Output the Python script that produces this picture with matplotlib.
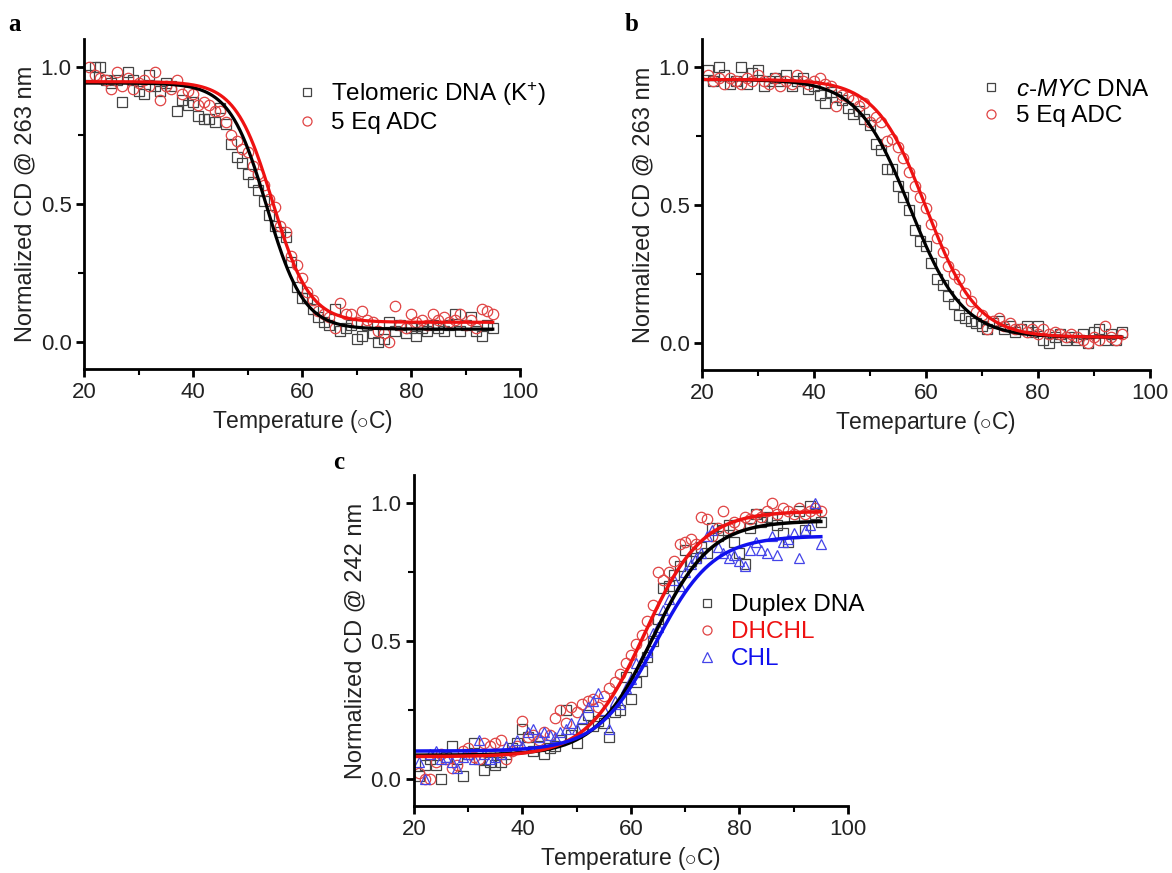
import numpy as np
import matplotlib.pyplot as plt
from matplotlib.ticker import MultipleLocator
from matplotlib.lines import Line2D

plt.rcParams['font.family'] = ['Liberation Sans', 'DejaVu Sans']
plt.rcParams['mathtext.fontset'] = 'custom'
plt.rcParams['mathtext.rm'] = 'Liberation Sans'
plt.rcParams['mathtext.it'] = 'Liberation Sans:italic'
plt.rcParams['mathtext.bf'] = 'Liberation Sans:bold'

temp = np.arange(21, 96)

# panel a: telomeric DNA (K+) and with 5 eq ADC
telo_dna = [0.97, 1.00, 1.00, 0.95, 0.94, 0.95, 0.87, 0.98, 0.95, 0.91,
            0.90, 0.97, 0.93, 0.91, 0.94, 0.93, 0.84, 0.88, 0.86, 0.87,
            0.82, 0.81, 0.81, 0.80, 0.85, 0.79, 0.72, 0.67, 0.65, 0.61,
            0.58, 0.55, 0.51, 0.46, 0.42, 0.40, 0.38, 0.29, 0.20, 0.16,
            0.16, 0.12, 0.09, 0.07, 0.06, 0.12, 0.04, 0.05, 0.06, 0.01,
            0.02, 0.06, 0.03, 0.00, 0.01, 0.07, 0.04, 0.06, 0.03, 0.05,
            0.02, 0.05, 0.04, 0.06, 0.05, 0.04, 0.06, 0.10, 0.04, 0.06,
            0.09, 0.04, 0.02, 0.06, 0.05]
telo_adc = [1.00, 0.97, 0.96, 0.95, 0.92, 0.98, 0.93, 0.96, 0.92, 0.94,
            0.95, 0.93, 0.98, 0.88, 0.93, 0.92, 0.95, 0.90, 0.91, 0.90,
            0.86, 0.87, 0.86, 0.84, 0.84, 0.80, 0.75, 0.73, 0.70, 0.69,
            0.64, 0.61, 0.57, 0.52, 0.49, 0.42, 0.40, 0.31, 0.28, 0.23,
            0.18, 0.15, 0.11, 0.10, 0.09, 0.05, 0.14, 0.10, 0.10, 0.07,
            0.11, 0.08, 0.07, 0.04, 0.03, 0.00, 0.13, 0.06, 0.05, 0.10,
            0.07, 0.08, 0.06, 0.10, 0.08, 0.09, 0.07, 0.08, 0.10, 0.06,
            0.08, 0.05, 0.12, 0.11, 0.10]

# panel b: c-MYC DNA and with 5 eq ADC
myc_dna = [0.99, 0.95, 1.00, 0.97, 0.94, 0.95, 1.00, 0.94, 0.98, 0.99,
           0.93, 0.95, 0.96, 0.95, 0.97, 0.93, 0.95, 0.96, 0.92, 0.93,
           0.90, 0.87, 0.91, 0.89, 0.88, 0.85, 0.83, 0.84, 0.81, 0.79,
           0.72, 0.70, 0.63, 0.63, 0.57, 0.53, 0.48, 0.41, 0.37, 0.35,
           0.29, 0.23, 0.21, 0.17, 0.14, 0.10, 0.09, 0.08, 0.07, 0.06,
           0.05, 0.07, 0.08, 0.05, 0.06, 0.04, 0.05, 0.06, 0.04, 0.06,
           0.01, 0.00, 0.02, 0.03, 0.01, 0.02, 0.01, 0.03, 0.00, 0.04,
           0.05, 0.01, 0.03, 0.01, 0.04]
myc_adc = [0.97, 0.95, 0.96, 0.94, 0.96, 0.95, 0.94, 0.96, 0.95, 0.97,
           0.95, 0.94, 0.96, 0.93, 0.95, 0.94, 0.97, 0.95, 0.94, 0.95,
           0.96, 0.94, 0.93, 0.86, 0.90, 0.89, 0.88, 0.86, 0.87, 0.80,
           0.82, 0.80, 0.73, 0.74, 0.71, 0.67, 0.62, 0.57, 0.53, 0.49,
           0.43, 0.38, 0.33, 0.28, 0.25, 0.23, 0.18, 0.15, 0.11, 0.10,
           0.05, 0.08, 0.09, 0.06, 0.07, 0.05, 0.05, 0.04, 0.05, 0.03,
           0.05, 0.03, 0.04, 0.03, 0.02, 0.03, 0.02, 0.01, 0.00, 0.02,
           0.01, 0.06, 0.02, 0.01, 0.03]

# panel c: duplex DNA, DHCHL, CHL
duplex = [0.01, 0.05, 0.07, 0.05, 0.00, 0.08, 0.12, 0.07, 0.01, 0.09,
          0.13, 0.07, 0.03, 0.06, 0.05, 0.06, 0.09, 0.11, 0.13, 0.18,
          0.15, 0.10, 0.12, 0.09, 0.11, 0.12, 0.14, 0.25, 0.16, 0.13,
          0.18, 0.23, 0.19, 0.21, 0.20, 0.15, 0.24, 0.25, 0.37, 0.29,
          0.35, 0.39, 0.44, 0.50, 0.58, 0.69, 0.70, 0.74, 0.77, 0.83,
          0.79, 0.80, 0.84, 0.82, 0.91, 0.88, 0.90, 0.92, 0.86, 0.82,
          0.78, 0.91, 0.96, 0.93, 0.95, 0.94, 0.92, 0.89, 0.86, 0.95,
          0.97, 0.90, 0.99, 0.96, 0.93]
dhchl = [0.02, 0.00, 0.00, 0.06, 0.09, 0.07, 0.04, 0.05, 0.10, 0.11,
         0.08, 0.07, 0.13, 0.12, 0.13, 0.14, 0.07, 0.10, 0.12, 0.21,
         0.15, 0.16, 0.14, 0.17, 0.16, 0.22, 0.25, 0.20, 0.26, 0.24,
         0.27, 0.28, 0.29, 0.26, 0.30, 0.33, 0.35, 0.38, 0.42, 0.45,
         0.49, 0.52, 0.57, 0.63, 0.75, 0.72, 0.75, 0.79, 0.85, 0.86,
         0.87, 0.85, 0.95, 0.94, 0.88, 0.91, 0.97, 0.91, 0.93, 0.92,
         0.95, 0.94, 0.96, 0.95, 0.97, 1.00, 0.96, 0.98, 0.97, 0.96,
         0.98, 0.96, 0.97, 0.98, 0.97]
chl = [0.06, 0.00, 0.09, 0.10, 0.07, 0.08, 0.06, 0.04, 0.08, 0.09,
       0.07, 0.14, 0.09, 0.07, 0.08, 0.09, 0.12, 0.11, 0.14, 0.12,
       0.17, 0.18, 0.15, 0.17, 0.16, 0.15, 0.17, 0.18, 0.20, 0.18,
       0.22, 0.26, 0.28, 0.31, 0.25, 0.18, 0.28, 0.27, 0.33, 0.36,
       0.42, 0.43, 0.46, 0.53, 0.55, 0.61, 0.65, 0.72, 0.70, 0.75,
       0.78, 0.80, 0.82, 0.88, 0.90, 0.84, 0.82, 0.80, 0.81, 0.79,
       0.77, 0.83, 0.86, 0.83, 0.82, 0.88, 0.81, 0.86, 0.87, 0.89,
       0.80, 0.90, 0.92, 1.00, 0.85]

# Boltzmann fit parameters (A1, A2, x0, dx)
telo_dna_fit = (0.94, 0.045, 53.5, 3.4)
telo_adc_fit = (0.945, 0.07, 54.6, 3.4)
myc_dna_fit = (0.955, 0.02, 57.2, 4.7)
myc_adc_fit = (0.955, 0.02, 60.1, 4.5)
duplex_fit = (0.085, 0.935, 64.0, 5.3)
dhchl_fit = (0.08, 0.97, 62.5, 5.3)
chl_fit = (0.10, 0.88, 64.5, 5.3)

fit_t = np.linspace(20, 95, 300)


def boltzmann(t, a1, a2, x0, dx):
    return a2 + (a1 - a2) / (1 + np.exp((t - x0) / dx))


def style(ax, xlabel, ylabel):
    ax.set_xlim(20, 100)
    ax.set_ylim(-0.1, 1.1)
    ax.spines[['top', 'right']].set_visible(False)
    ax.spines[['left', 'bottom']].set_linewidth(2)
    ax.xaxis.set_major_locator(MultipleLocator(20))
    ax.xaxis.set_minor_locator(MultipleLocator(10))
    ax.yaxis.set_major_locator(MultipleLocator(0.5))
    ax.yaxis.set_minor_locator(MultipleLocator(0.25))
    ax.yaxis.set_major_formatter('{x:.1f}')
    ax.tick_params(which='major', direction='out', length=6, width=2,
                   labelsize=16, labelcolor='#222222', pad=3)
    ax.tick_params(which='minor', direction='out', length=4, width=1.5)
    ax.set_xlabel(xlabel, fontsize=16.5, color='#222222', labelpad=4)
    ax.set_ylabel(ylabel, fontsize=17, color='#222222', labelpad=3)


def add_legend(ax, handles, labels, anchor):
    return ax.legend(handles, labels, loc='upper left', bbox_to_anchor=anchor,
                     frameon=False, fontsize=17.5, handlelength=1.0,
                     handletextpad=0.5, labelspacing=0.2,
                     borderaxespad=0, borderpad=0)


sq = dict(marker='s', ls='none', ms=7, mfc='none', mec='#444444', mew=0.9)
ci = dict(marker='o', ls='none', ms=7.5, mfc='none', mec='#e04444', mew=0.9)
tr = dict(marker='^', ls='none', ms=7.5, mfc='none', mec='#4444e8', mew=0.9)

fig = plt.figure(figsize=(11.72, 8.73), dpi=100)

# a
ax = fig.add_axes([0.0717, 0.5773, 0.372, 0.378])
ax.plot(temp, telo_dna, **sq)
ax.plot(temp, telo_adc, **ci)
ax.plot(fit_t, boltzmann(fit_t, *telo_dna_fit), color='black', lw=2.3)
ax.plot(fit_t, boltzmann(fit_t, *telo_adc_fit), color='#ee1111', lw=2.3)
style(ax, r'Temperature ($\circ$C)', 'Normalized CD @ 263 nm')
add_legend(ax, [Line2D([], [], **{**sq, 'ms': 6}), Line2D([], [], **{**ci, 'ms': 6.5})],
           [r'Telomeric DNA (K$^{+}$)', '5 Eq ADC'], (0.483, 0.877))

# b
ax = fig.add_axes([0.599, 0.5758, 0.382, 0.379])
ax.plot(temp, myc_dna, **sq)
ax.plot(temp, myc_adc, **ci)
ax.plot(fit_t, boltzmann(fit_t, *myc_dna_fit), color='black', lw=2.3)
ax.plot(fit_t, boltzmann(fit_t, *myc_adc_fit), color='#ee1111', lw=2.3)
style(ax, r'Temeparture ($\circ$C)', 'Normalized CD @ 263 nm')
add_legend(ax, [Line2D([], [], **{**sq, 'ms': 6}), Line2D([], [], **{**ci, 'ms': 6.5})],
           [r'$\it{c}$-$\it{MYC}$ DNA', '5 Eq ADC'], (0.619, 0.882))

# c
ax = fig.add_axes([0.3532, 0.0765, 0.3703, 0.379])
ax.plot(temp, duplex, **sq)
ax.plot(temp, dhchl, **ci)
ax.plot(temp, chl, **tr)
ax.plot(fit_t, boltzmann(fit_t, *duplex_fit), color='black', lw=2.5)
ax.plot(fit_t, boltzmann(fit_t, *dhchl_fit), color='#ee1111', lw=2.5)
ax.plot(fit_t, boltzmann(fit_t, *chl_fit), color='#1111ee', lw=2.5)
style(ax, r'Temperature ($\circ$C)', 'Normalized CD @ 242 nm')
leg = add_legend(ax, [Line2D([], [], **{**sq, 'ms': 6}), Line2D([], [], **{**ci, 'ms': 6.5}),
                      Line2D([], [], **{**tr, 'ms': 6.5})],
                 ['Duplex DNA', 'DHCHL', 'CHL'], (0.647, 0.64))
for txt, col in zip(leg.get_texts(), ['black', '#ee1111', '#1111ee']):
    txt.set_color(col)

for lab, x, y in [('a', 0.007, 0.965), ('b', 0.533, 0.965), ('c', 0.284, 0.463)]:
    fig.text(x, y, lab, family=['Liberation Serif', 'DejaVu Serif'],
             weight='bold', fontsize=18)

fig.savefig('out.png', dpi=100)
